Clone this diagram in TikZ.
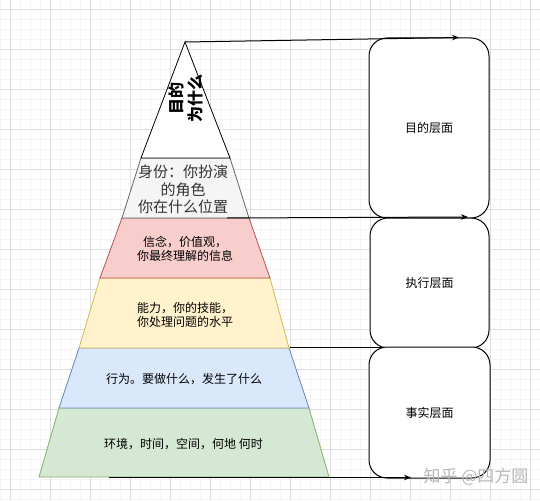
\documentclass[tikz,border=0pt]{standalone}
\usepackage{fontspec}
\setmainfont{Noto Sans CJK SC}
\usetikzlibrary{arrows.meta}
\definecolor{gridmaj}{HTML}{DEDEDE}
\definecolor{gridmin}{HTML}{F4F4F4}
\definecolor{greyfill}{HTML}{F5F5F5}
\definecolor{greyline}{HTML}{666666}
\definecolor{pinkfill}{HTML}{F8CECC}
\definecolor{pinkline}{HTML}{B85450}
\definecolor{yelfill}{HTML}{FFF2CC}
\definecolor{yelline}{HTML}{D6B656}
\definecolor{bluefill}{HTML}{DAE8FC}
\definecolor{blueline}{HTML}{6C8EBF}
\definecolor{grnfill}{HTML}{D5E8D4}
\definecolor{grnline}{HTML}{82B366}
\definecolor{txtdark}{HTML}{333333}
\tikzset{
  layer/.style={line width=0.8pt},
  laytext/.style={align=center, inner sep=0pt, text=black, font=\fontsize{12}{14}\selectfont},
  levelbox/.style={draw=black, fill=white, line width=1pt, rounded corners=18pt, inner sep=0pt, font=\fontsize{12}{14}\selectfont},
  conn/.style={line width=1pt, draw=black},
  tip/.style={-{Stealth[length=7pt,width=5.5pt]}},
}
\begin{document}
\begin{tikzpicture}[x=1pt, y=-1pt]
\useasboundingbox (0,0) rectangle (540,500);
\fill[white] (0,0) rectangle (540,500);
% grid
\foreach \i in {0,10,...,540} {\draw[gridmin, line width=0.6pt] (\i,0) -- (\i,500);}
\foreach \j in {-1,9,...,500} {\draw[gridmin, line width=0.6pt] (0,\j) -- (540,\j);}
\foreach \i in {10,50,...,540} {\draw[gridmaj, line width=0.8pt] (\i,0) -- (\i,500);}
\foreach \j in {9,49,...,500} {\draw[gridmaj, line width=0.8pt] (0,\j) -- (540,\j);}
% pyramid layers
\filldraw[layer, fill=grnfill, draw=grnline] (59,408) -- (309,408) -- (329,477) -- (39,477) -- cycle;
\filldraw[layer, fill=bluefill, draw=blueline] (79,348) -- (289,348) -- (309,408) -- (59,408) -- cycle;
\filldraw[layer, fill=yelfill, draw=yelline] (100,278) -- (270,278) -- (289,348) -- (79,348) -- cycle;
\filldraw[layer, fill=pinkfill, draw=pinkline] (122,218) -- (249,218) -- (270,278) -- (100,278) -- cycle;
\filldraw[layer, fill=greyfill, draw=greyline] (141,158) -- (230,158) -- (249,218) -- (122,218) -- cycle;
\filldraw[layer, fill=white, draw=black] (185,42) -- (230,158) -- (141,158) -- cycle;
% layer texts
\node[rotate=90, align=center, inner sep=0pt, font=\bfseries\fontsize{16}{19}\selectfont] (why) at (185.5,98) {目的\\为什么};
\node[align=center, inner sep=0pt, text=txtdark, font=\fontsize{15}{17.5}\selectfont] (role) at (183,189.5) {身份：你扮演\\的角色\\你在什么位置};
\node[laytext] (belief) at (185,248.5) {信念，价值观，\\你最终理解的信息};
\node[laytext] (ability) at (185,314.5) {能力，你的技能，\\你处理问题的水平};
\node[laytext] (behave) at (184,379) {行为。要做什么，发生了什么};
\node[laytext] (env) at (183.5,444) {环境，时间，空间，何地 何时};
% level boxes
\node[levelbox, minimum width=120pt, minimum height=180pt] (purpose) at (429,128) {目的层面};
\node[levelbox, minimum width=119pt, minimum height=130pt] (exec) at (429.5,283) {执行层面};
\node[levelbox, minimum width=121pt, minimum height=131pt] (fact) at (429.5,412.5) {事实层面};
% connector end points
\coordinate (apex) at (185,42);
\coordinate (t1) at (459,37.5);
\coordinate (s2) at (227,218);
\coordinate (t2) at (468,217);
\coordinate (s3) at (290,347.5);
\coordinate (t3) at (382,347.5);
\coordinate (s4) at (109,477.5);
\coordinate (t4) at (411,477.5);
\draw[conn, tip] (apex) -- (t1);
\draw[conn, tip] (s2) -- (t2);
\draw[conn] (s3) -- (t3);
\draw[conn, tip] (s4) -- (t4);
% watermark
\node[inner sep=0pt, text=black!28, font=\fontsize{17}{19}\selectfont] (mark) at (476,477) {知乎 @四方圆};
\end{tikzpicture}
\end{document}
